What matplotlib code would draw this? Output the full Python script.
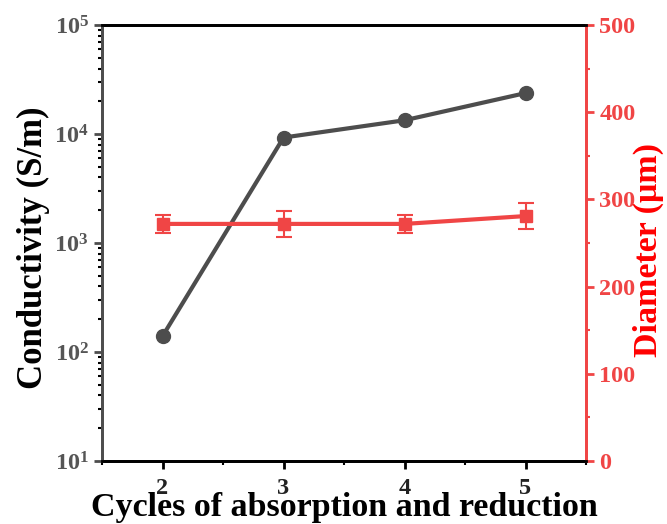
import numpy as np
import matplotlib.pyplot as plt
from matplotlib.ticker import LogLocator, MultipleLocator, LogFormatterMathtext

cycles = [2, 3, 4, 5]
conductivity = [140, 9300, 13400, 23800]
diameter = [272, 272, 272, 281]
diameter_err = [10, 15, 10, 15]

plt.rcParams["font.family"] = ["Liberation Serif", "DejaVu Serif"]
plt.rcParams["font.weight"] = "bold"
plt.rcParams["mathtext.fontset"] = "custom"
plt.rcParams["mathtext.rm"] = "Liberation Serif:bold"
plt.rcParams["mathtext.it"] = "Liberation Serif:bold"
plt.rcParams["mathtext.bf"] = "Liberation Serif:bold"

gray = "#4d4d4d"
red = "#f04545"

fig = plt.figure(figsize=(6.67, 5.24), dpi=100)
ax = fig.add_axes([0.153, 0.1202, 0.7256, 0.8318])
ax2 = ax.twinx()

ax.plot(cycles, conductivity, color=gray, lw=3, marker="o", ms=10, zorder=3)
ax.set_yscale("log")
ax.set_ylim(10, 1e5)
ax.set_xlim(1.5, 5.5)
ax.yaxis.set_major_locator(LogLocator(base=10, numticks=10))
ax.yaxis.set_minor_locator(LogLocator(base=10, subs=np.arange(2, 10), numticks=10))
ax.yaxis.set_major_formatter(LogFormatterMathtext())
ax.xaxis.set_major_locator(MultipleLocator(1))
ax.xaxis.set_minor_locator(MultipleLocator(0.5))
ax.tick_params(axis="both", which="major", direction="out", length=6, width=2, labelsize=17.5)
ax.tick_params(axis="both", which="minor", direction="out", length=3, width=1.5)
ax.tick_params(axis="y", colors=gray, labelcolor="#555555")
ax.tick_params(axis="x", colors="black", labelcolor="#222222", pad=6)
ax.set_xlabel("Cycles of absorption and reduction", fontsize=24.5, fontweight="bold", labelpad=-5)
ax.set_ylabel("Conductivity (S/m)", fontsize=25, fontweight="bold")
ax.yaxis.set_label_coords(-0.107, 0.49)

ax2.errorbar(cycles, diameter, yerr=diameter_err, color=red, lw=3, marker="s", ms=9,
             capsize=6, elinewidth=1.5, capthick=1.5, zorder=3)
ax2.set_ylim(0, 500)
ax2.yaxis.set_major_locator(MultipleLocator(100))
ax2.yaxis.set_minor_locator(MultipleLocator(50))
ax2.tick_params(axis="y", which="major", direction="out", length=6, width=2, labelsize=17.5,
                colors=red, labelcolor=red)
ax2.tick_params(axis="y", which="minor", direction="out", length=3, width=1.5, colors=red)
ax2.set_ylabel("Diameter (\u03bcm)", fontsize=24.5, fontweight="bold", color="#ff0000")
ax2.yaxis.set_label_coords(1.097, 0.485)

for a in (ax, ax2):
    for sp in a.spines.values():
        sp.set_linewidth(2)
ax.spines["left"].set_color(gray)
ax2.spines["left"].set_color(gray)
ax2.spines["right"].set_color(red)
ax.spines["right"].set_color(red)
ax.spines["top"].set_color("black")
ax.spines["bottom"].set_color("black")

fig.savefig("out.png", dpi=100)
